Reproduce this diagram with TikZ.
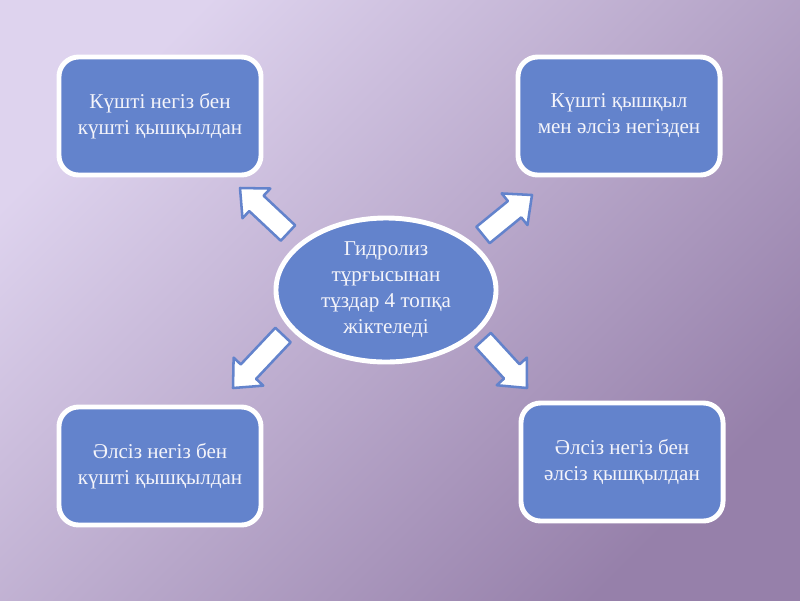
\documentclass[tikz,border=0pt]{standalone}
\usepackage{fontspec}
\setmainfont{Liberation Serif}
\usetikzlibrary{calc,shadows,shapes.geometric}
\definecolor{bgtop}{RGB}{222,211,238}
\definecolor{bgbot}{RGB}{150,128,170}
\definecolor{boxblue}{RGB}{99,131,204}
\definecolor{txtwhite}{RGB}{244,244,250}
\tikzset{
  box/.style={draw=white, line width=3.5pt, fill=boxblue, rounded corners=14pt,
    minimum width=5.05cm, minimum height=2.95cm, align=center, text=txtwhite,
    font=\fontsize{15}{18.5}\selectfont,
    drop shadow={opacity=0.25, shadow xshift=0.8pt, shadow yshift=-1.2pt}},
  hub/.style={box, ellipse, sharp corners, minimum width=5.5cm, minimum height=3.6cm, inner sep=0pt},
  blockarrow/.style={draw=boxblue, line width=1.8pt, fill=white, line join=round}
}
\begin{document}
\begin{tikzpicture}[x=0.025cm, y=-0.025cm]
\shade[top color=bgtop, bottom color=bgbot, shading angle=45] (0,0) rectangle (800,600);
\node[box] (sbsa) at (160,116) {Күшті негіз бен\\күшті қышқылдан};
\node[box] (sawb) at (619,116) {Күшті қышқыл\\мен әлсіз негізден};
\node[box] (wbsa) at (160,466) {Әлсіз негіз бен\\күшті қышқылдан};
\node[box] (wbwa) at (622,462) {Әлсіз негіз бен\\әлсіз қышқылдан};
\node[hub] (hub) at (386,290) {Гидролиз\\тұрғысынан\\тұздар 4 топқа\\жіктеледі};
\coordinate (a1) at (288,233); \coordinate (b1) at (240,188);
\coordinate (a2) at (483,235); \coordinate (b2) at (532,195);
\coordinate (a3) at (283,335); \coordinate (b3) at (233,388);
\coordinate (a4) at (483,340); \coordinate (b4) at (527,388);
\foreach \s/\t in {a1/b1, a2/b2, a3/b3, a4/b4}{
  \coordinate (h) at ($(\t)!16pt!(\s)$);
  \draw[blockarrow] ($(\s)!7.5pt!90:(\t)$) -- ($(h)!7.5pt!90:(\t)$) -- ($(h)!14.5pt!90:(\t)$)
    -- (\t) -- ($(h)!14.5pt!-90:(\t)$) -- ($(h)!7.5pt!-90:(\t)$) -- ($(\s)!7.5pt!-90:(\t)$) -- cycle;
}
\end{tikzpicture}
\end{document}
